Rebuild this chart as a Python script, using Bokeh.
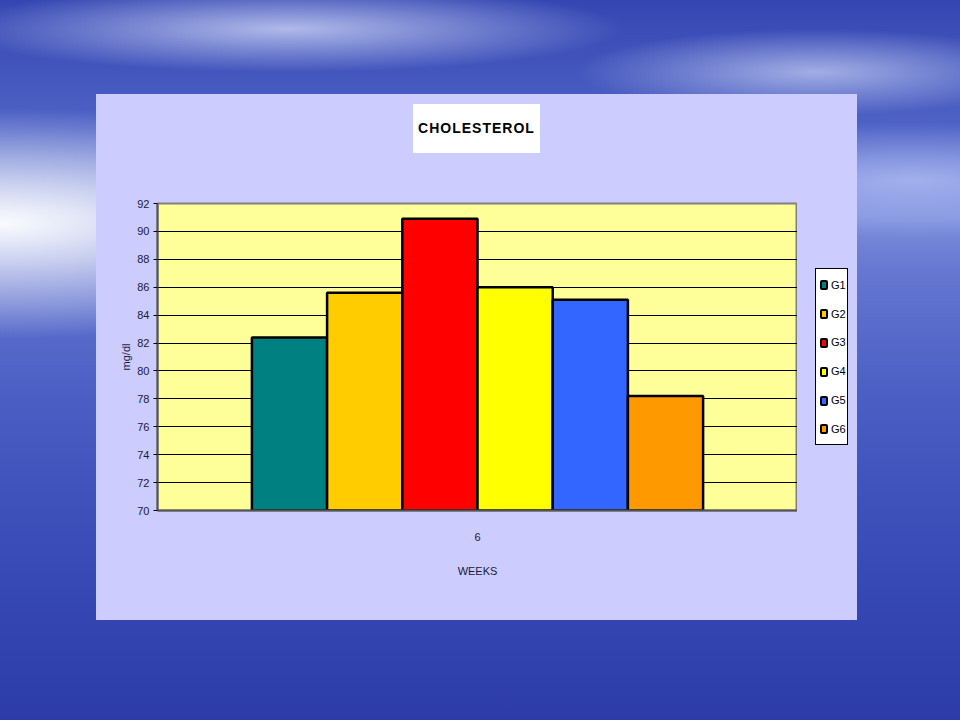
from bokeh.plotting import figure
from bokeh.models import FactorRange, Range1d, FixedTicker, ColumnDataSource, Div
from bokeh.transform import dodge
from bokeh.layouts import column, row
from bokeh.embed import file_html
from bokeh.resources import INLINE

# ---- data ----
weeks = ["6"]
groups = ["G1", "G2", "G3", "G4", "G5", "G6"]
values = [82.4, 85.6, 90.9, 86.0, 85.1, 78.2]
colors = ["#008080", "#FFCC00", "#FF0000", "#FFFF00", "#3366FF", "#FF9900"]
y_ticks = [70, 72, 74, 76, 78, 80, 82, 84, 86, 88, 90, 92]
title_text = "CHOLESTEROL"
y_label = "mg/dl"
x_label = "WEEKS"

FONT = "'Liberation Sans Narrow', 'Liberation Sans', Arial, sans-serif"
TXT = "#1a1a3a"

title_div = Div(text=title_text, width=127, height=49, margin=(104, 0, 0, 413),
                styles={"background": "white", "text-align": "center", "line-height": "49px",
                        "font-family": "'Liberation Sans', Arial, sans-serif", "font-weight": "bold",
                        "font-size": "14px", "letter-spacing": "1px", "color": "black"})

p = figure(width=701, height=437, x_range=FactorRange(*weeks), y_range=Range1d(70, 92),
           output_backend="svg", toolbar_location=None,
           min_border_left=61, min_border_right=0, min_border_top=20, min_border_bottom=110,
           margin=(30, 0, 0, 96))
p.border_fill_alpha = 0
p.background_fill_color = "#FFFF99"
p.outline_line_color = "#808080"
p.outline_line_width = 2

bw = 0.1175
for i, (g, v, c) in enumerate(zip(groups, values, colors)):
    src = ColumnDataSource(dict(x=weeks, top=[v]))
    p.vbar(x=dodge("x", (i - 2.5) * bw, range=p.x_range), top="top", bottom=70, width=bw,
           source=src, fill_color=c, line_color="black", line_width=2.5)

# axes
p.yaxis.ticker = FixedTicker(ticks=y_ticks)
p.yaxis.axis_label = y_label
p.yaxis.axis_label_text_font = FONT
p.yaxis.axis_label_text_font_style = "normal"
p.yaxis.axis_label_text_font_size = "11px"
p.yaxis.axis_label_text_color = TXT
p.yaxis.axis_label_standoff = 2
p.yaxis.major_label_text_font = FONT
p.yaxis.major_label_text_font_size = "11px"
p.yaxis.major_label_text_color = TXT
p.yaxis.major_tick_out = 4
p.yaxis.major_tick_in = 0
p.yaxis.minor_tick_line_color = None
p.yaxis.major_label_standoff = 4
p.yaxis.axis_line_color = "#555555"
p.yaxis.axis_line_width = 2

p.xaxis.axis_label = x_label
p.xaxis.axis_label_text_font = FONT
p.xaxis.axis_label_text_font_style = "normal"
p.xaxis.axis_label_text_font_size = "11px"
p.xaxis.axis_label_text_color = TXT
p.xaxis.axis_label_standoff = 21
p.xaxis.major_label_text_font = FONT
p.xaxis.major_label_text_font_size = "11px"
p.xaxis.major_label_text_color = TXT
p.xaxis.major_label_standoff = 16
p.xaxis.major_tick_line_color = None
p.xaxis.axis_line_color = "#555555"
p.xaxis.axis_line_width = 2

p.xgrid.grid_line_color = None
p.ygrid.grid_line_color = "black"
p.ygrid.grid_line_width = 1
p.ygrid.ticker = FixedTicker(ticks=y_ticks)

# legend (HTML box built from the same groups / colours)
rows_html = "".join(
    f'<div style="height:28.8px;display:flex;align-items:center;">'
    f'<span style="display:block;flex:none;box-sizing:border-box;width:8px;height:10px;'
    f'background-color:{c};border:2px solid black;border-radius:2px;margin-right:3px;"></span>{g}</div>'
    for g, c in zip(groups, colors))
legend_div = Div(text=f'<div style="padding:2px 0 0 4px;">{rows_html}</div>',
                 width=33, height=177, margin=(115, 0, 0, 18),
                 styles={"background": "white", "border": "1px solid black", "box-sizing": "border-box",
                         "font-family": FONT, "font-size": "11px", "color": "black", "line-height": "1"})

bg = ("linear-gradient(#CCCCFF, #CCCCFF) 96px 94px / 761px 526px no-repeat, "
      "radial-gradient(ellipse 45% 16% at 0% 31%, rgba(255,255,255,0.97), rgba(255,255,255,0) 100%), "
      "radial-gradient(ellipse 35% 6% at 30% 4%, rgba(225,232,255,0.7), rgba(255,255,255,0) 100%), "
      "radial-gradient(ellipse 25% 6% at 85% 10%, rgba(225,232,255,0.6), rgba(255,255,255,0) 100%), "
      "radial-gradient(ellipse 30% 8% at 95% 25%, rgba(200,210,255,0.6), rgba(255,255,255,0) 100%), "
      "linear-gradient(to bottom, #3546b2 0%, #4f63c6 18%, #7d8fdc 30%, #6476d0 38%, #4a5ec4 55%, "
      "#3a4db8 75%, #2c3ba8 100%)")
root = column(title_div, row(p, legend_div), width=960, height=720, styles={"background": bg})

open("out.html", "w").write(file_html(root, INLINE))
